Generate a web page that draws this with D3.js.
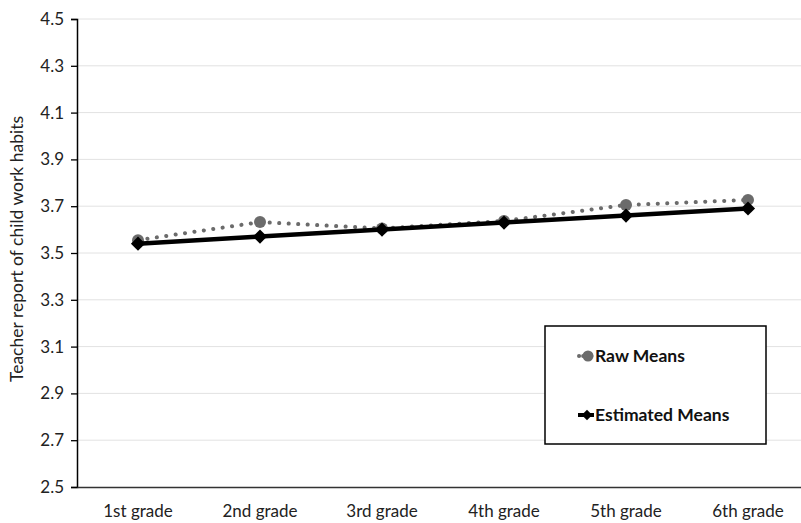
<!DOCTYPE html>
<html><head><meta charset="utf-8">
<script src="https://cdn.jsdelivr.net/npm/d3@7"></script>
<style>body{margin:0;background:#fff;} text{font-family:Lato,"Open Sans",sans-serif;}</style>
</head><body>
<svg id="c" width="801" height="523"></svg>
<script>
const categories = ["1st grade","2nd grade","3rd grade","4th grade","5th grade","6th grade"];
const rawMeans = [3.555, 3.632, 3.605, 3.637, 3.705, 3.727];
const estimatedMeans = [3.54, 3.57, 3.60, 3.63, 3.66, 3.69];
const yTicks = [2.5,2.7,2.9,3.1,3.3,3.5,3.7,3.9,4.1,4.3,4.5];
const svg = d3.select("#c");
const x = d3.scaleBand().domain(categories).range([77, 809]);
const y = d3.scaleLinear().domain([2.5, 4.5]).range([487, 19]);
const cx = d => x(d) + x.bandwidth()/2;
// grid
svg.append("g").selectAll("line").data(yTicks.slice(1)).join("line")
  .attr("x1",77).attr("x2",801).attr("y1",d=>y(d)).attr("y2",d=>y(d))
  .attr("stroke","#e2e2e2").attr("stroke-width",1);
// y axis
const ya = svg.append("g").attr("transform","translate(77,0)")
  .call(d3.axisLeft(y).tickValues(yTicks).tickFormat(d3.format(".1f")).tickSizeOuter(0).tickSize(6).tickPadding(7));
ya.select(".domain").attr("stroke","#000").attr("stroke-width",1.5);
ya.selectAll(".tick line").attr("stroke","#000").attr("stroke-width",1.3);
ya.selectAll("text").attr("font-size",17).attr("fill","#222").style("font-family","Lato,sans-serif");
// x axis
const xa = svg.append("g").attr("transform","translate(0,487)")
  .call(d3.axisBottom(x).tickSize(0).tickPadding(18));
xa.select(".domain").attr("stroke","#333").attr("stroke-width",1.5);
xa.selectAll("text").attr("font-size",17).attr("fill","#222").style("font-family","Lato,sans-serif");
// y label
svg.append("text").attr("transform","translate(23,249) rotate(-90)").attr("text-anchor","middle")
  .attr("font-size",17.5).attr("fill","#222").text("Teacher report of child work habits");
// raw line
const line = d3.line().x((d,i)=>cx(categories[i])).y(d=>y(d));
svg.append("path").datum(rawMeans).attr("d",line).attr("fill","none")
  .attr("stroke","#6b6b6b").attr("stroke-width",4).attr("stroke-dasharray","0.1 9.4").attr("stroke-linecap","round");
svg.append("g").selectAll("circle").data(rawMeans).join("circle")
  .attr("cx",(d,i)=>cx(categories[i])).attr("cy",d=>y(d)).attr("r",6).attr("fill","#6b6b6b");
// estimated line
svg.append("path").datum(estimatedMeans).attr("d",line).attr("fill","none")
  .attr("stroke","#000").attr("stroke-width",4.5);
svg.append("g").selectAll("path").data(estimatedMeans).join("path")
  .attr("d",d3.symbol().type(d3.symbolSquare).size(100))
  .attr("transform",(d,i)=>`translate(${cx(categories[i])},${y(d)}) rotate(45)`).attr("fill","#000");
// legend
const lg = svg.append("g");
lg.append("rect").attr("x",545).attr("y",326).attr("width",221).attr("height",118)
  .attr("fill","#fff").attr("stroke","#000").attr("stroke-width",1.5);
lg.append("line").attr("x1",579).attr("x2",592).attr("y1",356).attr("y2",356).attr("stroke","#6b6b6b").attr("stroke-width",4).attr("stroke-dasharray","0.1 4").attr("stroke-linecap","round");
lg.append("circle").attr("cx",588).attr("cy",356).attr("r",5.5).attr("fill","#6b6b6b");
lg.append("text").attr("x",595).attr("y",362).attr("font-size",17.5).attr("font-weight","bold").attr("fill","#111").text("Raw Means");
lg.append("line").attr("x1",578).attr("x2",594).attr("y1",415).attr("y2",415).attr("stroke","#000").attr("stroke-width",4);
lg.append("path").attr("d",d3.symbol().type(d3.symbolSquare).size(55)).attr("transform","translate(587,415) rotate(45)").attr("fill","#000");
lg.append("text").attr("x",595).attr("y",421).attr("font-size",17.5).attr("font-weight","bold").attr("fill","#111").text("Estimated Means");
</script>
</body></html>
